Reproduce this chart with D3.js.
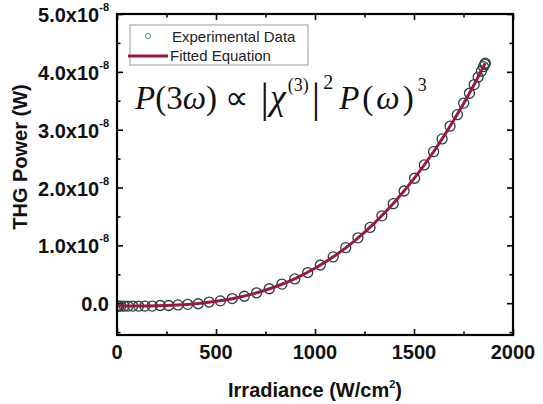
<!DOCTYPE html>
<html>
<head>
<meta charset="utf-8">
<script src="https://cdn.jsdelivr.net/npm/d3@7"></script>
<style>
  body { margin: 0; background: #fff; }
  svg { display: block; }
</style>
</head>
<body>
<div id="chart"></div>
<script>
// measured points, irradiance (W/cm2) and THG power (x1e-8 W)
const expX = [0, 2, 9, 20, 36, 56, 80, 109, 141, 178, 218, 261, 308, 357, 410, 465,
  522, 582, 643, 705, 769, 833, 898, 963, 1027, 1092, 1155, 1217, 1278, 1338, 1395,
  1450, 1503, 1552, 1599, 1642, 1682, 1719, 1751, 1780, 1804, 1824, 1840, 1851, 1858, 1860];
const expY = [-0.05, -0.05, -0.05, -0.05, -0.05, -0.05, -0.05, -0.05, -0.05, -0.05, -0.04, -0.04,
  -0.03, -0.02, -0.01, 0.02, 0.04, 0.08, 0.12, 0.18, 0.25, 0.33, 0.42, 0.53, 0.66, 0.80,
  0.96, 1.13, 1.31, 1.51, 1.72, 1.94, 2.16, 2.39, 2.62, 2.84, 3.06, 3.26, 3.46, 3.63,
  3.78, 3.91, 4.01, 4.09, 4.13, 4.15];

// fitted curve
const fitX = [0, 100, 200, 300, 400, 500, 600, 700, 800, 900, 1000, 1100, 1200, 1300,
  1400, 1500, 1600, 1700, 1800, 1860];
const fitY = [-0.05, -0.049, -0.045, -0.032, -0.008, 0.032, 0.091, 0.174, 0.284, 0.426,
  0.603, 0.819, 1.078, 1.384, 1.741, 2.153, 2.623, 3.157, 3.756, 4.15];

const xMajor = [0, 500, 1000, 1500, 2000];
const xMinor = [250, 750, 1250, 1750];
const yMajor = [0, 1, 2, 3, 4, 5];
const yMinor = [-0.5, 0.5, 1.5, 2.5, 3.5, 4.5];
const yLabels = ['0.0', '1.0x10', '2.0x10', '3.0x10', '4.0x10', '5.0x10'];

const width = 543, height = 404;
const pLeft = 117, pRight = 513, pTop = 14, pBottom = 335;

const svg = d3.select('#chart').append('svg')
  .attr('width', width)
  .attr('height', height)
  .style('font-family', 'Liberation Sans, Arial, sans-serif');

const x = d3.scaleLinear().domain([0, 2000]).range([pLeft, pRight]);
const y = d3.scaleLinear().domain([-0.55, 5]).range([pBottom, pTop]);

svg.append('defs').append('clipPath').attr('id', 'plot')
  .append('rect')
  .attr('x', pLeft).attr('y', pTop)
  .attr('width', pRight - pLeft).attr('height', pBottom - pTop);

// ticks, all pointing inward
function ticks(axis, transform, vals, size) {
  const g = svg.append('g')
    .attr('transform', transform)
    .call(axis.tickValues(vals).tickSize(-size).tickFormat(''));
  g.select('.domain').remove();
  g.selectAll('line').attr('stroke', '#000').attr('stroke-width', 1.6);
  return g;
}
ticks(d3.axisBottom(x), `translate(0,${pBottom})`, xMajor, 6);
ticks(d3.axisBottom(x), `translate(0,${pBottom})`, xMinor, 3.5);
ticks(d3.axisTop(x), `translate(0,${pTop})`, xMajor, 6);
ticks(d3.axisTop(x), `translate(0,${pTop})`, xMinor, 3.5);
ticks(d3.axisLeft(y), `translate(${pLeft},0)`, yMajor, 6);
ticks(d3.axisLeft(y), `translate(${pLeft},0)`, yMinor, 3.5);
ticks(d3.axisRight(y), `translate(${pRight},0)`, yMajor, 6);
ticks(d3.axisRight(y), `translate(${pRight},0)`, yMinor, 3.5);

// x tick labels
svg.append('g').selectAll('text')
  .data(xMajor)
  .enter().append('text')
  .attr('x', d => x(d))
  .attr('y', pBottom + 24)
  .attr('text-anchor', 'middle')
  .attr('font-size', 20)
  .attr('font-weight', 'bold')
  .attr('fill', '#111')
  .text(d => d);

// y tick labels with exponent
const yl = svg.append('g').selectAll('text')
  .data(yMajor)
  .enter().append('text')
  .attr('x', pLeft - 8)
  .attr('y', d => y(d) + 8)
  .attr('text-anchor', 'end')
  .attr('font-size', 20)
  .attr('font-weight', 'bold')
  .attr('fill', '#111');
yl.append('tspan').text((d, i) => yLabels[i]);
yl.filter(d => d !== 0).append('tspan')
  .attr('dy', -11)
  .attr('font-size', 11)
  .text('-8');

// axis titles
svg.append('text')
  .attr('x', 315)
  .attr('y', 397)
  .attr('text-anchor', 'middle')
  .attr('font-size', 20)
  .attr('font-weight', 'bold')
  .attr('fill', '#111')
  .call(t => {
    t.append('tspan').text('Irradiance (W/cm');
    t.append('tspan').attr('dy', -9).attr('font-size', 11).text('2');
    t.append('tspan').attr('dy', 9).text(')');
  });

svg.append('text')
  .attr('transform', 'translate(27,157) rotate(-90)')
  .attr('text-anchor', 'middle')
  .attr('font-size', 20)
  .attr('font-weight', 'bold')
  .attr('fill', '#111')
  .text('THG Power (W)');

// data
const plot = svg.append('g').attr('clip-path', 'url(#plot)');
const pts = expX.map((d, i) => [d, expY[i]]);
plot.selectAll('circle')
  .data(pts)
  .enter().append('circle')
  .attr('cx', d => x(d[0]))
  .attr('cy', d => y(d[1]))
  .attr('r', 5)
  .attr('fill', 'none')
  .attr('stroke', '#24403a')
  .attr('stroke-width', 1.3);

const line = d3.line()
  .x(d => x(d[0]))
  .y(d => y(d[1]))
  .curve(d3.curveMonotoneX);
plot.append('path')
  .datum(fitX.map((d, i) => [d, fitY[i]]))
  .attr('d', line)
  .attr('fill', 'none')
  .attr('stroke', '#9b1a3c')
  .attr('stroke-width', 3);

// frame
svg.append('rect')
  .attr('x', pLeft).attr('y', pTop)
  .attr('width', pRight - pLeft).attr('height', pBottom - pTop)
  .attr('fill', 'none')
  .attr('stroke', '#000')
  .attr('stroke-width', 2.2);

// legend
const lg = svg.append('g');
lg.append('rect')
  .attr('x', 130).attr('y', 25).attr('width', 178).attr('height', 40)
  .attr('fill', '#fff').attr('stroke', '#999').attr('stroke-width', 1);
lg.append('circle')
  .attr('cx', 148).attr('cy', 36).attr('r', 2.5)
  .attr('fill', 'none').attr('stroke', '#4d8a80').attr('stroke-width', 1);
lg.append('line')
  .attr('x1', 128).attr('x2', 168).attr('y1', 56).attr('y2', 56)
  .attr('stroke', '#9b1a3c').attr('stroke-width', 3);
lg.append('text').attr('x', 172).attr('y', 42).attr('font-size', 15).attr('fill', '#222')
  .text('Experimental Data');
lg.append('text').attr('x', 170).attr('y', 61).attr('font-size', 15).attr('fill', '#222')
  .text('Fitted Equation');

// equation
const eq = svg.append('text')
  .attr('x', 135)
  .attr('y', 109)
  .attr('font-family', 'Liberation Serif, Times New Roman, serif')
  .attr('font-size', 33)
  .attr('fill', '#111');
eq.append('tspan').attr('font-style', 'italic').text('P');
eq.append('tspan').text('(3');
eq.append('tspan').attr('font-style', 'italic').text('ω');
eq.append('tspan').text(') ∝ ');
eq.append('tspan').attr('font-size', 42).attr('dy', 3).attr('dx', 3).text('|');
eq.append('tspan').attr('font-style', 'italic').attr('font-size', 36).attr('dy', -3).attr('dx', 1).text('χ');
eq.append('tspan').attr('font-size', 18).attr('dy', -18).attr('dx', 2).text('(3)');
eq.append('tspan').attr('font-size', 42).attr('dy', 21).attr('dx', 3).text('|');
eq.append('tspan').attr('font-size', 20).attr('dy', -23).attr('dx', 3).text('2');
eq.append('tspan').attr('font-style', 'italic').attr('dy', 20).attr('dx', 6).text('P');
eq.append('tspan').attr('dx', 3).text('(');
eq.append('tspan').attr('font-style', 'italic').attr('dx', 3).text('ω');
eq.append('tspan').attr('dx', 3).text(')');
eq.append('tspan').attr('font-size', 18).attr('dy', -18).attr('dx', 4).text('3');
</script>
</body>
</html>
